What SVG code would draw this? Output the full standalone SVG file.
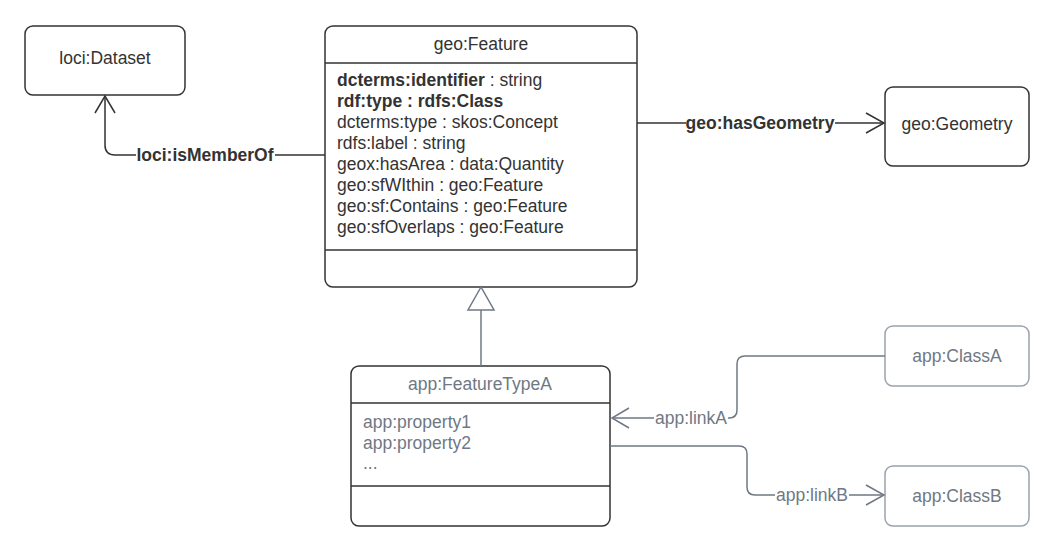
<svg xmlns="http://www.w3.org/2000/svg" width="1052" height="541" viewBox="0 0 1052 541">
<style>
.box{fill:#fff;stroke:#333;stroke-width:1.5}
.gbox{fill:#fff;stroke:#9aa2ad;stroke-width:1.5}
.t{font-family:"Liberation Sans",Arial,sans-serif;font-size:17.5px;fill:#333}
.g{fill:#6f7884}
.b{font-weight:bold}
.c{text-anchor:middle}
.ln{fill:none;stroke:#333;stroke-width:1.5}
.gl{fill:none;stroke:#6f7884;stroke-width:1.5}
.lbl{fill:#fff}
</style>
<rect width="1052" height="541" fill="#fff"/>
<g id="dataset">
<rect class="box" x="25" y="26" width="160" height="69" rx="8"/>
<text class="t c" x="105" y="64">loci:Dataset</text>
</g>
<g id="feature">
<rect class="box" x="325" y="26" width="312" height="261" rx="8"/>
<line class="ln" x1="325" y1="63" x2="637" y2="63"/>
<line class="ln" x1="325" y1="250" x2="637" y2="250"/>
<text class="t c" x="481" y="50">geo:Feature</text>
<text class="t" x="337" y="86"><tspan class="b">dcterms:identifier</tspan> : string</text>
<text class="t b" x="337" y="107">rdf:type : rdfs:Class</text>
<text class="t" x="337" y="128">dcterms:type : skos:Concept</text>
<text class="t" x="337" y="149">rdfs:label : string</text>
<text class="t" x="337" y="170">geox:hasArea : data:Quantity</text>
<text class="t" x="337" y="191">geo:sfWIthin : geo:Feature</text>
<text class="t" x="337" y="212">geo:sf:Contains : geo:Feature</text>
<text class="t" x="337" y="233">geo:sfOverlaps : geo:Feature</text>
</g>
<g id="geometry">
<rect class="box" x="885" y="87" width="144" height="79" rx="8"/>
<text class="t c" x="957" y="130">geo:Geometry</text>
</g>
<g id="featureTypeA">
<rect class="box" x="351" y="366" width="259" height="160" rx="8"/>
<line class="ln" x1="351" y1="403" x2="610" y2="403"/>
<line class="ln" x1="351" y1="486" x2="610" y2="486"/>
<text class="t c g" x="480" y="390">app:FeatureTypeA</text>
<text class="t g" x="363" y="428">app:property1</text>
<text class="t g" x="363" y="449">app:property2</text>
<text class="t g" x="363" y="469">...</text>
</g>
<g id="classA">
<rect class="gbox" x="885" y="326" width="144" height="60" rx="8"/>
<text class="t c g" x="957" y="362">app:ClassA</text>
</g>
<g id="classB">
<rect class="gbox" x="885" y="466" width="144" height="60" rx="8"/>
<text class="t c g" x="957" y="502">app:ClassB</text>
</g>
<g id="connectors">
<path class="ln" d="M325 155 H115 Q105 155 105 145 V96"/>
<path class="ln" d="M95 113 L105 96 L115 113"/>
<rect class="lbl" x="136" y="145" width="139" height="20"/>
<text class="t b c" x="205" y="161">loci:isMemberOf</text>

<path class="ln" d="M637 123 H884"/>
<path class="ln" d="M866 113 L884 123 L866 133"/>
<rect class="lbl" x="686" y="113" width="149" height="20"/>
<text class="t b c" x="760" y="129">geo:hasGeometry</text>

<path class="gl" d="M481 366 V310"/>
<path class="gl" d="M481 287 L468 310 H494 Z" fill="#fff"/>

<path class="gl" d="M885 356 H745 Q737 356 737 364 V410 Q737 418 729 418 H612"/>
<path class="gl" d="M629 408 L612 418 L629 428"/>
<rect class="lbl" x="654" y="408" width="74" height="20"/>
<text class="t c g" x="691" y="424">app:linkA</text>

<path class="gl" d="M610 446 H739 Q747 446 747 454 V487 Q747 495 755 495 H884"/>
<path class="gl" d="M866 485 L884 495 L866 505"/>
<rect class="lbl" x="775" y="485" width="74" height="20"/>
<text class="t c g" x="812" y="501">app:linkB</text>
</g>
</svg>
